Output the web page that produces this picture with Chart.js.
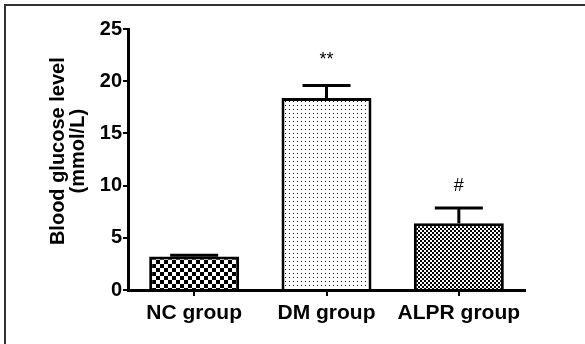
<!DOCTYPE html>
<html>
<head>
<meta charset="utf-8">
<script src="https://cdn.jsdelivr.net/npm/chart.js@4"></script>
<style>
  html, body { margin: 0; padding: 0; background: #fff; }
  #wrap { position: relative; width: 585px; height: 344px; }
  #frame { position: absolute; left: 4px; top: 4px; right: 0; bottom: 0;
           border-left: 2px solid #333; border-top: 2px solid #333; pointer-events: none; }
</style>
</head>
<body>
<div id="wrap">
  <canvas id="myChart" width="585" height="344"></canvas>
  <div id="frame"></div>
</div>
<script>
var groups = ['NC group', 'DM group', 'ALPR group'];
var glucose = [3.2, 18.4, 6.4];
var errors = [0.12, 1.2, 1.45];
var marks = ['', '**', '#'];
var yTicks = [0, 5, 10, 15, 20, 25];

// fill patterns for the three bars
function makePattern(size, draw){
  var c = document.createElement('canvas');
  c.width = size; c.height = size;
  var g = c.getContext('2d');
  g.fillStyle = '#fff';
  g.fillRect(0, 0, size, size);
  draw(g);
  return document.getElementById('myChart').getContext('2d').createPattern(c, 'repeat');
}
var checker = makePattern(8, function(g){
  g.fillStyle = '#000';
  g.fillRect(0, 0, 4, 4); g.fillRect(4, 4, 4, 4);
});
var dots = makePattern(4, function(g){
  g.fillStyle = '#111';
  g.fillRect(1, 1, 1, 1);
});
var fine = makePattern(4, function(g){
  g.fillStyle = '#000';
  g.fillRect(0, 0, 2, 2); g.fillRect(2, 2, 2, 2);
});

var errorBars = {
  id: 'errorBars',
  afterDatasetsDraw: function(ch){
    var ctx = ch.ctx;
    var meta = ch.getDatasetMeta(0);
    var y = ch.scales.y;
    ctx.save();
    ctx.strokeStyle = '#000';
    ctx.lineWidth = 3;
    meta.data.forEach(function(bar, i){
      var top = y.getPixelForValue(glucose[i] + errors[i]);
      ctx.beginPath();
      ctx.moveTo(bar.x, bar.y);
      ctx.lineTo(bar.x, top);
      ctx.moveTo(bar.x - 24, top);
      ctx.lineTo(bar.x + 24, top);
      ctx.stroke();
      if (marks[i]) {
        ctx.fillStyle = '#000';
        ctx.font = '18px "Liberation Sans", Arial, sans-serif';
        ctx.textAlign = 'center';
        ctx.textBaseline = 'alphabetic';
        ctx.fillText(marks[i], bar.x, top - (marks[i] === '#' ? 17 : 20));
      }
    });
    ctx.restore();
  }
};

var ctx = document.getElementById('myChart').getContext('2d');
var myChart = new Chart(ctx, {
  type: 'bar',
  data: {
    labels: groups,
    datasets: [{
      data: glucose,
      backgroundColor: [checker, dots, fine],
      borderColor: '#000',
      borderWidth: 3,
      barPercentage: 0.68,
      categoryPercentage: 1
    }]
  },
  options: {
    responsive: false,
    animation: false,
    layout: { padding: { left: 0, right: 60, top: 29, bottom: 0 } },
    plugins: { legend: { display: false }, tooltip: { enabled: false } },
    scales: {
      x: {
        afterFit: function(s){ s.height = 54; },
        border: { color: '#000', width: 3 },
        grid: { drawOnChartArea: false, offset: false, color: '#000', lineWidth: 2, tickLength: 6 },
        ticks: { color: '#000', padding: 5, font: { family: '"Liberation Sans", Arial, sans-serif', size: 21, weight: 'bold' } }
      },
      y: {
        min: 0, max: 25,
        afterFit: function(s){ s.width = 128; },
        afterBuildTicks: function(s){ s.ticks = yTicks.map(function(v){ return { value: v }; }); },
        border: { color: '#000', width: 3 },
        grid: { drawOnChartArea: false, color: '#000', lineWidth: 2, tickLength: 5 },
        ticks: { color: '#000', padding: 1, font: { family: '"Liberation Sans", Arial, sans-serif', size: 20, weight: 'bold' } },
        title: {
          display: true,
          text: ['   Blood glucose level', '   (mmol/L)'],
          color: '#000',
          padding: { top: 48, bottom: 0 },
          font: { family: '"Liberation Sans", Arial, sans-serif', size: 20, weight: 'bold', lineHeight: 1 }
        }
      }
    }
  },
  plugins: [errorBars]
});
</script>
</body>
</html>
